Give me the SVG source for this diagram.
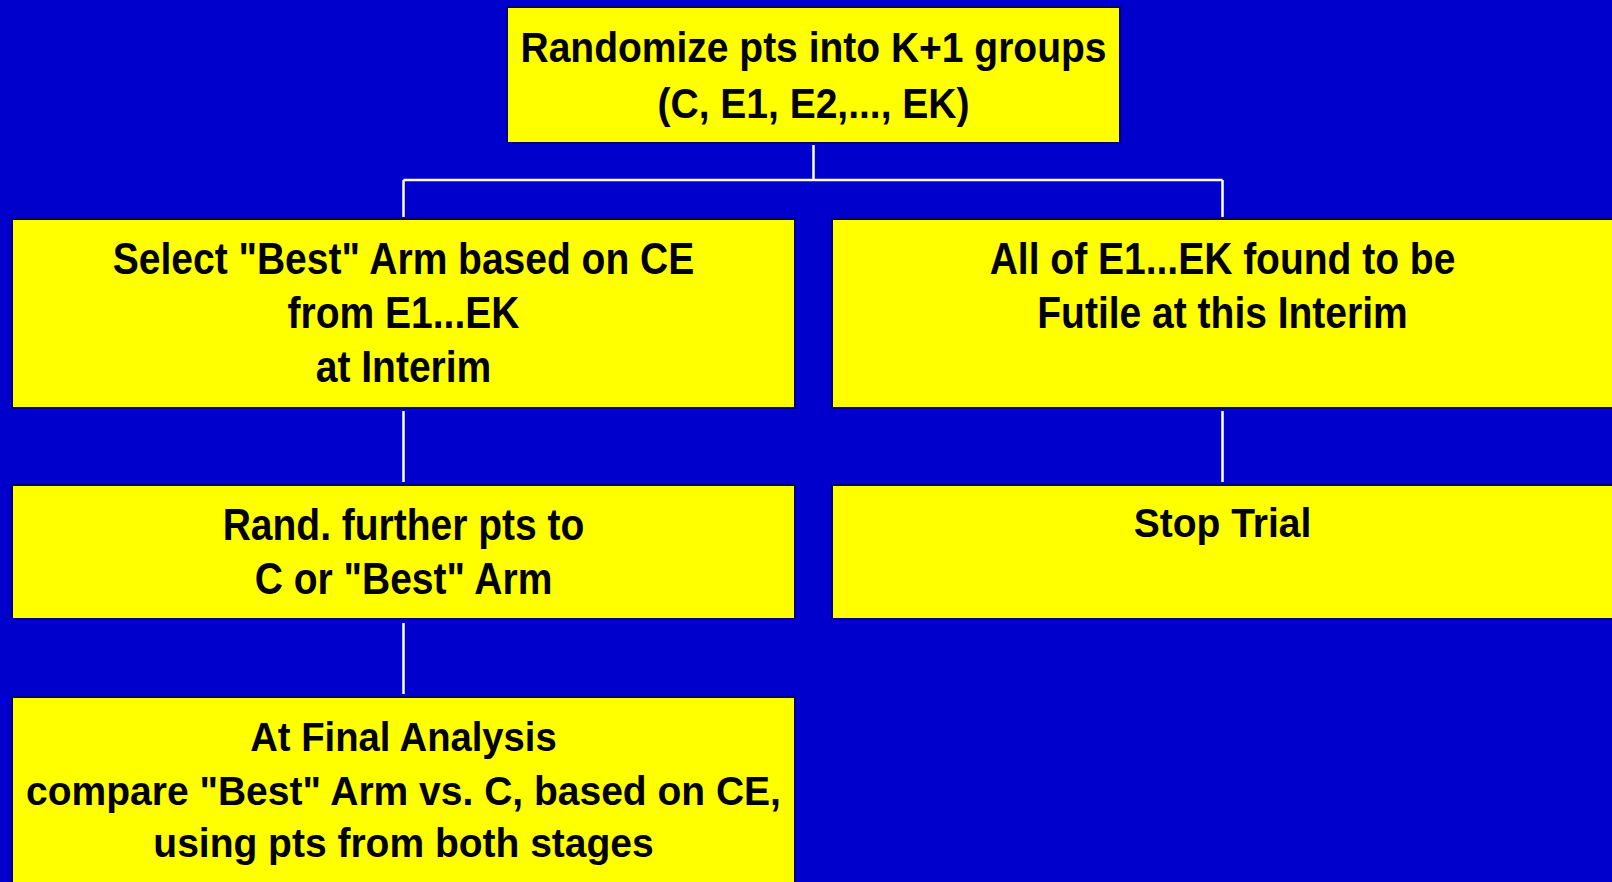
<svg xmlns="http://www.w3.org/2000/svg" width="1612" height="882" viewBox="0 0 1612 882">
<style>
.box{fill:#FFFF00;stroke:#000080;stroke-width:2}
.t{font-family:"Liberation Sans",Arial,sans-serif;font-weight:bold;font-size:39px;fill:#000000;text-anchor:middle}
.c{stroke:#FFFFFF;stroke-width:2.5;fill:none}
</style>
<rect x="0" y="0" width="1612" height="882" fill="#0000CC"/>
<g id="connectors">
<line class="c" x1="813.5" y1="145" x2="813.5" y2="180"/>
<line class="c" x1="403.5" y1="180" x2="1222.5" y2="180"/>
<line class="c" x1="403.5" y1="180" x2="403.5" y2="217"/>
<line class="c" x1="1222.5" y1="180" x2="1222.5" y2="217"/>
<line class="c" x1="403.5" y1="411" x2="403.5" y2="482"/>
<line class="c" x1="1222.5" y1="411" x2="1222.5" y2="482"/>
<line class="c" x1="403.5" y1="623" x2="403.5" y2="694"/>
</g>
<g id="n_randomize">
<rect class="box" x="507" y="7" width="613" height="136"/>
<text class="t" transform="translate(813.5 62) scale(1 1.07)">Randomize pts into K+1 groups</text>
<text class="t" transform="translate(813.5 118) scale(1 1.07)">(C, E1, E2,..., EK)</text>
</g>
<g id="n_select">
<rect class="box" x="12" y="219" width="783" height="189"/>
<text class="t" transform="translate(403.5 274) scale(1 1.16)">Select "Best" Arm based on CE</text>
<text class="t" transform="translate(403.5 328) scale(1 1.16)">from E1...EK</text>
<text class="t" transform="translate(403.5 382) scale(1 1.16)">at Interim</text>
</g>
<g id="n_futile">
<rect class="box" x="832" y="219" width="790" height="189"/>
<text class="t" transform="translate(1222.5 274) scale(1 1.16)">All of E1...EK found to be</text>
<text class="t" transform="translate(1222.5 328) scale(1 1.16)">Futile at this Interim</text>
</g>
<g id="n_rand">
<rect class="box" x="12" y="485" width="783" height="134"/>
<text class="t" transform="translate(403.5 540) scale(1 1.14)">Rand. further pts to</text>
<text class="t" transform="translate(403.5 594) scale(1 1.14)">C or "Best" Arm</text>
</g>
<g id="n_stop">
<rect class="box" x="832" y="485" width="790" height="134"/>
<text class="t" transform="translate(1222.5 537) scale(1 1.04)">Stop Trial</text>
</g>
<g id="n_final">
<rect class="box" x="12" y="697" width="783" height="200"/>
<text class="t" transform="translate(403.5 751) scale(0.98 1.06)">At Final Analysis</text>
<text class="t" transform="translate(403.5 805) scale(1 1.06)">compare "Best" Arm vs. C, based on CE,</text>
<text class="t" transform="translate(403.5 857) scale(1 1.06)">using pts from both stages</text>
</g>
</svg>
